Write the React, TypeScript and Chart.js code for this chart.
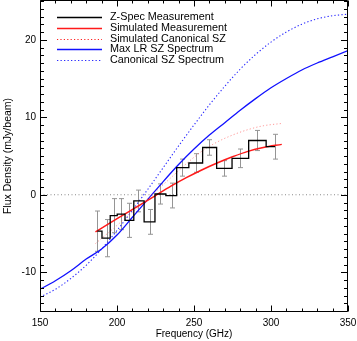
import React, { useEffect, useRef } from 'react';
import { Chart, registerables } from 'chart.js';

Chart.register(...registerables);

// ---------------- data ----------------
// Z-Spec measurement (channel centres, GHz) and flux density (mJy/beam)
const zspecFreq = [187.2, 193.3, 197.9, 202.4, 208.0, 213.8, 221.4, 227.9, 235.5, 242.0, 251.3, 259.9, 269.5, 279.9, 291.1, 302.6];
const zspecFlux = [-4.7, -5.6, -2.7, -2.5, -3.3, -0.8, -3.5, 0.1, -0.1, 3.5, 4.1, 6.1, 3.4, 4.7, 7.0, 6.2];
const zspecErr = [2.6, 2.4, 2.2, 2.0, 2.2, 1.4, 1.6, 1.3, 1.6, 1.1, 1.2, 1.0, 1.0, 1.2, 1.3, 1.6];

// Simulated curves over the Z-Spec band
const simFreq = [186, 195, 205, 215, 225, 235, 245, 255, 265, 275, 285, 295, 307];
const simMeasurement = [-4.8, -3.7, -2.5, -1.3, -0.1, 1.1, 2.2, 3.2, 4.1, 4.9, 5.6, 6.1, 6.5];
const simCanonical = [-6.3, -4.8, -3.1, -1.4, 0.4, 2.2, 4.0, 5.6, 6.8, 7.7, 8.4, 8.9, 9.2];

// SZ spectra over the full frequency range
const szFreq = [150, 160, 170, 180, 190, 200, 210, 220, 230, 240, 250, 260, 270, 280, 290, 300, 310, 320, 330, 340, 350];
const maxLRSpectrum = [-12.2, -11.1, -9.8, -8.3, -7.0, -5.2, -2.9, -0.6, 1.7, 3.9, 5.9, 7.7, 9.3, 10.9, 12.4, 13.8, 15.0, 16.1, 17.0, 17.8, 18.6];
const canonicalSpectrum = [-13.2, -12.2, -10.8, -9.1, -7.0, -4.6, -2.0, 0.7, 3.5, 6.3, 9.0, 11.6, 14.0, 16.2, 18.1, 19.7, 21.0, 22.0, 22.7, 23.1, 23.3];

// zero reference line
const zeroLineX = [150, 350];
const zeroLineY = [0, 0];

// axes
const xRange = [150, 350];
const yRange = [-15, 25];
const xMajorTicks = [150, 200, 250, 300, 350];
const yMajorTicks = [-10, 0, 10, 20];
const xMinorStep = 10;
const yMinorStep = 1;

const legendLabels = [
  'Z-Spec Measurement',
  'Simulated Measurement',
  'Simulated Canonical SZ',
  'Max LR SZ Spectrum',
  'Canonical SZ Spectrum',
];

const pts = (xs: number[], ys: number[]) => xs.map((x, i) => ({ x, y: ys[i] }));

const FONT = "'Liberation Sans', Arial, Helvetica, sans-serif";

export default function App() {
  const ref = useRef<HTMLCanvasElement>(null);

  useEffect(() => {
    const canvas = ref.current!;

    const errorBars = {
      id: 'errorBars',
      beforeDatasetsDraw(chart: any) {
        const { ctx, scales } = chart;
        const xs = scales.x, ys = scales.y;
        ctx.save();
        ctx.strokeStyle = '#959595';
        ctx.lineWidth = 1;
        zspecFreq.forEach((f, i) => {
          const x = Math.round(xs.getPixelForValue(f)) + 0.5;
          const y1 = ys.getPixelForValue(zspecFlux[i] + zspecErr[i]);
          const y2 = ys.getPixelForValue(zspecFlux[i] - zspecErr[i]);
          ctx.beginPath();
          ctx.moveTo(x, y1);
          ctx.lineTo(x, y2);
          ctx.moveTo(x - 2.5, y1);
          ctx.lineTo(x + 2.5, y1);
          ctx.moveTo(x - 2.5, y2);
          ctx.lineTo(x + 2.5, y2);
          ctx.stroke();
        });
        ctx.restore();
      },
    };

    const frame = {
      id: 'frame',
      afterDraw(chart: any) {
        const { ctx, chartArea: a, scales } = chart;
        const xs = scales.x, ys = scales.y;
        const L = Math.round(a.left) + 0.5;
        const R = Math.round(a.right) - 0.5;
        const T = Math.round(a.top) - 0.5;
        const B = Math.round(a.bottom) + 0.5;
        ctx.save();
        ctx.strokeStyle = '#000';
        ctx.lineWidth = 1;
        ctx.beginPath();
        ctx.rect(L, T, R - L, B - T);
        for (let v = xRange[0]; v <= xRange[1] + 1e-9; v += xMinorStep) {
          const major = xMajorTicks.includes(v);
          const len = major ? 6 : 3;
          const x = Math.round(xs.getPixelForValue(v)) + 0.5;
          ctx.moveTo(x, B);
          ctx.lineTo(x, B - len);
          ctx.moveTo(x, T);
          ctx.lineTo(x, T + len);
        }
        for (let v = yRange[0]; v <= yRange[1] + 1e-9; v += yMinorStep) {
          const major = yMajorTicks.includes(v);
          const len = major ? 6.5 : 3.5;
          const y = Math.round(ys.getPixelForValue(v)) + 0.5;
          ctx.moveTo(L, y);
          ctx.lineTo(L + len, y);
          ctx.moveTo(R, y);
          ctx.lineTo(R - len, y);
        }
        ctx.stroke();
        ctx.restore();
      },
    };

    const legend = {
      id: 'customLegend',
      afterDraw(chart: any) {
        const { ctx, chartArea: a } = chart;
        ctx.save();
        ctx.font = `10.8px ${FONT}`;
        ctx.textBaseline = 'middle';
        ctx.textAlign = 'left';
        ctx.fillStyle = '#000';
        legendLabels.forEach((label, i) => {
          const ds = chart.data.datasets[i];
          const y = Math.round(a.top + 16 + i * 10.8) + 0.5;
          ctx.strokeStyle = ds.legendColor || ds.borderColor;
          ctx.lineWidth = ds.legendWidth || ds.borderWidth;
          ctx.setLineDash(ds.borderDash || []);
          ctx.beginPath();
          ctx.moveTo(a.left + 17, y);
          ctx.lineTo(a.left + 62, y);
          ctx.stroke();
          ctx.setLineDash([]);
          ctx.fillText(label, a.left + 70, y);
        });
        ctx.restore();
      },
    };

    const chart = new Chart(canvas, {
      type: 'line',
      data: {
        datasets: [
          {
            label: legendLabels[0],
            data: pts(zspecFreq, zspecFlux),
            borderColor: '#000',
            borderWidth: 1.3,
            stepped: 'middle',
            pointRadius: 0,
          },
          {
            label: legendLabels[1],
            data: pts(simFreq, simMeasurement),
            borderColor: '#ff1a1a',
            borderWidth: 1.5,
            cubicInterpolationMode: 'monotone',
            pointRadius: 0,
          },
          {
            label: legendLabels[2],
            data: pts(simFreq, simCanonical),
            borderColor: 'rgba(255,110,110,0.7)',
            legendColor: '#ff2020',
            borderWidth: 1,
            borderDash: [1.2, 2.2],
            cubicInterpolationMode: 'monotone',
            pointRadius: 0,
          },
          {
            label: legendLabels[3],
            data: pts(szFreq, maxLRSpectrum),
            borderColor: '#1010ff',
            borderWidth: 1.3,
            cubicInterpolationMode: 'monotone',
            pointRadius: 0,
          },
          {
            label: legendLabels[4],
            data: pts(szFreq, canonicalSpectrum),
            borderColor: '#2a2aff',
            borderWidth: 1.1,
            borderDash: [1.3, 2.2],
            cubicInterpolationMode: 'monotone',
            pointRadius: 0,
          },
          {
            label: '',
            data: pts(zeroLineX, zeroLineY),
            borderColor: '#8a8a8a',
            borderWidth: 1,
            borderDash: [1, 2.5],
            pointRadius: 0,
          },
        ] as any,
      },
      options: {
        animation: false,
        responsive: true,
        maintainAspectRatio: false,
        devicePixelRatio: 1,
        layout: { padding: { top: 1, left: 0, right: 9, bottom: 0 } },
        plugins: {
          legend: { display: false },
          tooltip: { enabled: false },
        },
        scales: {
          x: {
            type: 'linear',
            min: xRange[0],
            max: xRange[1],
            grid: { display: false, drawTicks: false },
            border: { display: false },
            ticks: { padding: 6, color: '#000', font: { size: 10, family: FONT } },
            afterBuildTicks: (s: any) => {
              s.ticks = xMajorTicks.map((v) => ({ value: v }));
            },
            afterFit: (s: any) => {
              s.height = 30;
              s.paddingLeft = 0;
              s.paddingRight = 0;
            },
            title: {
              display: true,
              text: 'Frequency (GHz)',
              color: '#000',
              font: { size: 10, family: FONT },
              padding: { top: 0, bottom: 1 },
            },
          },
          y: {
            type: 'linear',
            min: yRange[0],
            max: yRange[1],
            grid: { display: false, drawTicks: false },
            border: { display: false },
            ticks: { padding: 4, color: '#000', font: { size: 10, family: FONT } },
            afterBuildTicks: (s: any) => {
              s.ticks = yMajorTicks.map((v) => ({ value: v }));
            },
            afterFit: (s: any) => {
              s.width = 40;
              s.paddingTop = 0;
              s.paddingBottom = 0;
            },
            title: {
              display: true,
              text: 'Flux Density (mJy/beam)',
              color: '#000',
              font: { size: 10.5, family: FONT },
              padding: { top: 1.5, bottom: 0 },
            },
          },
        },
      } as any,
      plugins: [errorBars, frame, legend],
    });

    return () => chart.destroy();
  }, []);

  return (
    <div style={{ position: 'absolute', left: 0, top: 0, width: 357, height: 341 }}>
      <canvas ref={ref} />
    </div>
  );
}
